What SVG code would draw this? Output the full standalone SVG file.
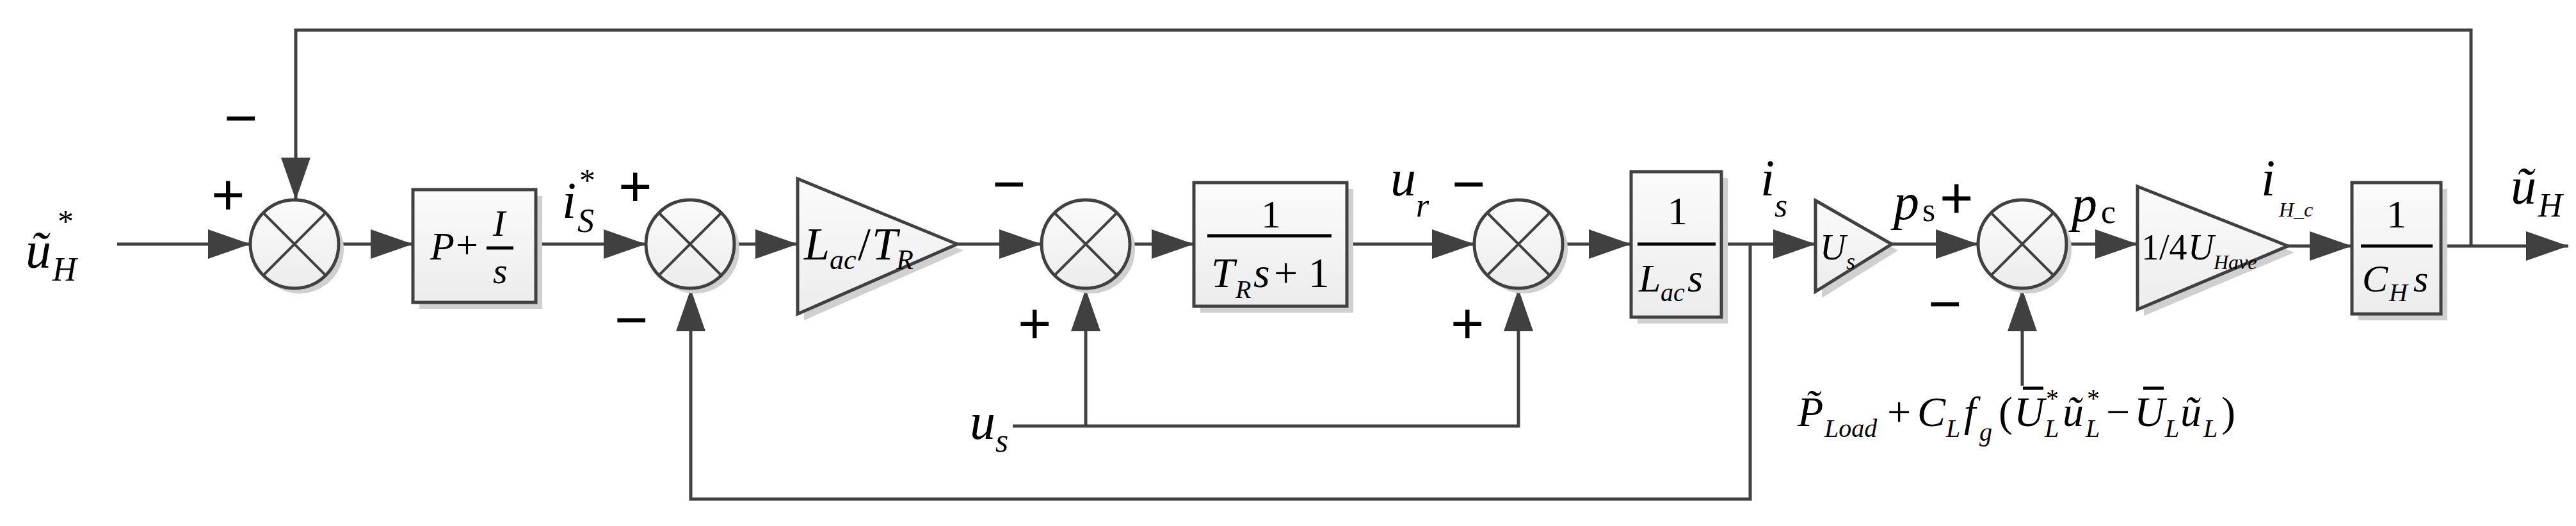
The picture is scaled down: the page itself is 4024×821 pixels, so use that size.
<svg xmlns="http://www.w3.org/2000/svg" width="4024" height="821" viewBox="0 0 4024 821" font-family="Liberation Serif, Times New Roman, serif">
<style>
.ln{stroke:#404040;stroke-width:5;fill:none}
.blk{fill:url(#g);stroke:#404040;stroke-width:5}
.sh{fill:#d0d0d0;stroke:none}
.x{stroke:#404040;stroke-width:4}
text{font-style:italic;fill:#000}
.m{font-size:80px}
.s{font-size:52px}
.up{font-style:normal}
.sg{font-family:"Liberation Sans",sans-serif;font-style:normal;font-size:90px}
</style>
<defs>
<linearGradient id="g" x1="0" y1="0" x2="0" y2="1"><stop offset="0" stop-color="#fbfbfb"/><stop offset="1" stop-color="#ececec"/></linearGradient>
<marker id="a" viewBox="0 0 66 46" refX="66" refY="23" markerWidth="66" markerHeight="46" markerUnits="userSpaceOnUse" orient="auto"><path d="M0,0L66,23L0,46Z" fill="#404040"/></marker>
</defs>
<g id="connectors">
<path class="ln" d="M183,381H391" marker-end="url(#a)"/>
<path class="ln" d="M3860,384V47H462V312" marker-end="url(#a)"/>
<path class="ln" d="M529,381H645" marker-end="url(#a)"/>
<path class="ln" d="M837,381H1009" marker-end="url(#a)"/>
<path class="ln" d="M1147,381H1246" marker-end="url(#a)"/>
<path class="ln" d="M1495,381H1627" marker-end="url(#a)"/>
<path class="ln" d="M1765,381H1865" marker-end="url(#a)"/>
<path class="ln" d="M2104,381H2303" marker-end="url(#a)"/>
<path class="ln" d="M2441,381H2548" marker-end="url(#a)"/>
<path class="ln" d="M2689,381H2836" marker-end="url(#a)"/>
<path class="ln" d="M2734,381V779H1079V451" marker-end="url(#a)"/>
<path class="ln" d="M1582,665H2372V451" marker-end="url(#a)"/>
<path class="ln" d="M1696,665V451" marker-end="url(#a)"/>
<path class="ln" d="M2955,381H3090" marker-end="url(#a)"/>
<path class="ln" d="M3159,602V451" marker-end="url(#a)"/>
<path class="ln" d="M3228,381H3339" marker-end="url(#a)"/>
<path class="ln" d="M3574,384H3674" marker-end="url(#a)"/>
<path class="ln" d="M3813,384H4012" marker-end="url(#a)"/>
</g>
<g id="sum1"><circle cx="468" cy="389" r="69" class="sh"/><circle cx="460" cy="381" r="69" class="blk"/><path class="x" d="M411,332L509,430M509,332L411,430"/><text class="sg" x="330" y="335">+</text><text class="sg" x="350" y="215">−</text></g>
<g id="pi"><rect x="655" y="306" width="192" height="176" class="sh"/><rect x="645" y="296" width="192" height="176" class="blk"/><text x="672" y="405" font-size="62">P</text><text x="712" y="403" class="up" font-size="62">+</text><text x="770" y="368" font-size="58">I</text><line x1="760" y1="387" x2="802" y2="387" stroke="#000" stroke-width="5"/><text x="770" y="442" font-size="58">s</text></g>
<g id="sum2"><circle cx="1086" cy="389" r="69" class="sh"/><circle cx="1078" cy="381" r="69" class="blk"/><path class="x" d="M1029,332L1127,430M1127,332L1029,430"/><text class="sg" x="966" y="322">+</text><text class="sg" x="960" y="530">−</text></g>
<g id="gain1"><path d="M1256,289L1505,391L1256,500Z" class="sh"/><path d="M1246,279L1495,381L1246,490Z" class="blk"/><text x="1256" y="405" font-size="72">L</text><text x="1296" y="420" font-size="44">ac</text><text x="1340" y="405" font-size="72" class="up">/</text><text x="1362" y="405" font-size="72">T</text><text x="1400" y="420" font-size="44">R</text></g>
<g id="sum3"><circle cx="1704" cy="389" r="69" class="sh"/><circle cx="1696" cy="381" r="69" class="blk"/><path class="x" d="M1647,332L1745,430M1745,332L1647,430"/><text class="sg" x="1550" y="318">−</text><text class="sg" x="1590" y="536">+</text></g>
<g id="lag"><rect x="1875" y="295" width="239" height="193" class="sh"/><rect x="1865" y="285" width="239" height="193" class="blk"/><text x="1970" y="355" font-size="62" class="up">1</text><line x1="1886" y1="368" x2="2080" y2="368" stroke="#000" stroke-width="5"/><text x="1892" y="448" font-size="66">T</text><text x="1930" y="465" font-size="40">R</text><text x="1958" y="448" font-size="66">s</text><text x="1990" y="448" font-size="66" class="up">+ 1</text></g>
<text x="2172" y="305" class="m">u</text><text x="2212" y="338" class="s">r</text>
<g id="sum4"><circle cx="2380" cy="389" r="69" class="sh"/><circle cx="2372" cy="381" r="69" class="blk"/><path class="x" d="M2323,332L2421,430M2421,332L2323,430"/><text class="sg" x="2268" y="318">−</text><text class="sg" x="2266" y="536">+</text></g>
<text x="1515" y="685" class="m">u</text><text x="1555" y="705" class="s">s</text>
<g id="integ"><rect x="2558" y="278" width="141" height="227" class="sh"/><rect x="2548" y="268" width="141" height="227" class="blk"/><text x="2605" y="350" font-size="62" class="up">1</text><line x1="2558" y1="381" x2="2680" y2="381" stroke="#000" stroke-width="5"/><text x="2560" y="455" font-size="62">L</text><text x="2594" y="470" font-size="40">ac</text><text x="2636" y="455" font-size="62">s</text></g>
<text x="2750" y="305" class="m">i</text><text x="2772" y="338" class="s">s</text>
<g id="gain2"><path d="M2846,323L2965,391L2846,465Z" class="sh"/><path d="M2836,313L2955,381L2836,455Z" class="blk"/><text x="2843" y="405" font-size="56">U</text><text x="2884" y="420" font-size="36">s</text></g>
<text x="2958" y="342" class="m">p</text><text x="3003" y="345" class="s up">s</text>
<g id="sum5"><circle cx="3167" cy="389" r="69" class="sh"/><circle cx="3159" cy="381" r="69" class="blk"/><path class="x" d="M3110,332L3208,430M3208,332L3110,430"/><text class="sg" x="3030" y="340">+</text><text class="sg" x="3012" y="505">−</text></g>
<g id="load"><text x="2808" y="665" font-size="66">P̃</text><text x="2850" y="682" font-size="40">Load</text><text x="2948" y="665" font-size="66" class="up">+</text><text x="2995" y="665" font-size="66">C</text><text x="3040" y="682" font-size="40">L</text><text x="3068" y="665" font-size="66">f</text><text x="3092" y="688" font-size="40">g</text><text x="3122" y="665" font-size="66" class="up">(</text><text x="3146" y="665" font-size="66">U</text><line x1="3160" y1="606" x2="3192" y2="606" stroke="#000" stroke-width="5"/><text x="3194" y="682" font-size="40">L</text><text x="3196" y="635" font-size="40" class="up">*</text><text x="3222" y="665" font-size="66">ũ</text><text x="3258" y="682" font-size="40">L</text><text x="3260" y="635" font-size="40" class="up">*</text><text x="3290" y="665" font-size="66" class="up">−</text><text x="3334" y="665" font-size="66">U</text><line x1="3348" y1="606" x2="3380" y2="606" stroke="#000" stroke-width="5"/><text x="3382" y="682" font-size="40">L</text><text x="3406" y="665" font-size="66">ũ</text><text x="3442" y="682" font-size="40">L</text><text x="3470" y="665" font-size="66" class="up">)</text></g>
<text x="3236" y="345" class="m">p</text><text x="3282" y="348" class="s up">c</text>
<g id="gain3"><path d="M3349,301L3584,394L3349,493Z" class="sh"/><path d="M3339,291L3574,384L3339,483Z" class="blk"/><text x="3345" y="405" font-size="56" class="up">1/4</text><text x="3418" y="405" font-size="56">U</text><text x="3458" y="420" font-size="32">Have</text></g>
<text x="3532" y="305" class="m">i</text><text x="3560" y="338" font-size="32">H_c</text>
<g id="cap"><rect x="3684" y="295" width="139" height="205" class="sh"/><rect x="3674" y="285" width="139" height="205" class="blk"/><text x="3728" y="355" font-size="62" class="up">1</text><line x1="3688" y1="384" x2="3800" y2="384" stroke="#000" stroke-width="5"/><text x="3690" y="455" font-size="60">C</text><text x="3732" y="470" font-size="40">H</text><text x="3770" y="455" font-size="60">s</text></g>
<text x="3922" y="318" class="m">ũ</text><text x="3965" y="338" class="s">H</text>
<text x="40" y="418" class="m">ũ</text><text x="82" y="438" class="s">H</text><text x="90" y="362" font-size="50" class="up">*</text>
<text x="878" y="340" class="m">i</text><text x="902" y="362" class="s">S</text><text x="905" y="298" font-size="50" class="up">*</text>
</svg>
